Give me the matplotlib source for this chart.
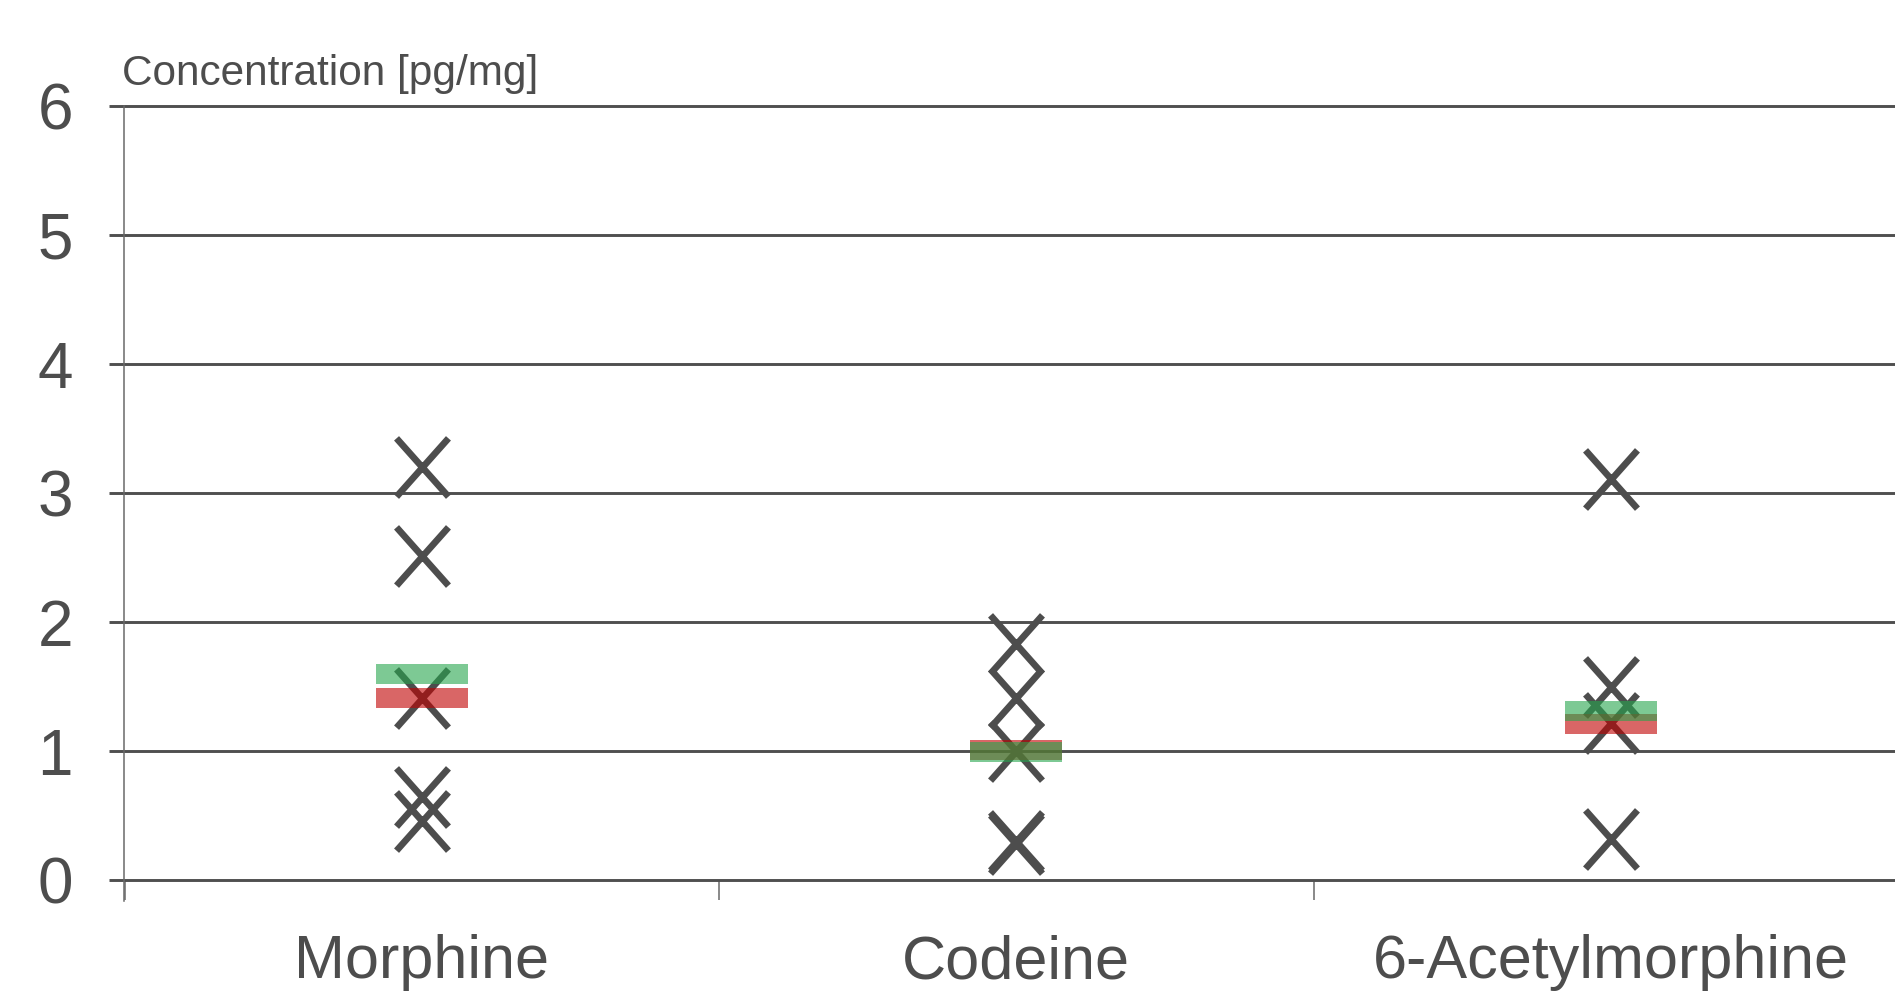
import matplotlib
matplotlib.use("Agg")
import matplotlib.pyplot as plt
from matplotlib.path import Path
import numpy as np

# data
drugs = ["Morphine", "Codeine", "6-Acetylmorphine"]
morphine_pts = [3.20, 2.51, 1.41, 0.645, 0.46]
codeine_pts = [1.83, 1.41, 1.00, 0.30, 0.28]
acetyl_pts = [3.11, 1.50, 1.22, 0.32]
green_vals = [1.60, 0.99, 1.31]
red_vals = [1.41, 1.01, 1.21]
y_ticks = [0, 1, 2, 3, 4, 5, 6]

text_col = "#4d4d4d"
grid_col = "#4f4f4f"
axis_col = "#6a6a6a"

plt.rcParams["font.family"] = ["Liberation Sans", "DejaVu Sans"]

# slightly tall cross, like the original
cross = Path([(-0.445, -0.5), (0.445, 0.5), (-0.445, 0.5), (0.445, -0.5)],
             [Path.MOVETO, Path.LINETO, Path.MOVETO, Path.LINETO])

fig = plt.figure(figsize=(18.95, 9.91), dpi=100)
ax = fig.add_axes([124.5 / 1895, 111 / 991, 1783.5 / 1895, 773.6 / 991])

for i, pts in enumerate([morphine_pts, codeine_pts, acetyl_pts]):
    ax.plot([i] * len(pts), pts, linestyle="none", marker=cross, markersize=42,
            markeredgewidth=4.8, color=text_col, zorder=3)

band_h = 0.155
band_w = 0.155
x = np.arange(len(drugs))
ax.bar(x, band_h, bottom=np.array(red_vals) - band_h / 2, width=band_w,
       color=(0.757, 0.0, 0.0), alpha=0.6, linewidth=0, zorder=4)
ax.bar(x, band_h, bottom=np.array(green_vals) - band_h / 2, width=band_w,
       color=(0.15, 0.65, 0.30), alpha=0.6, linewidth=0, zorder=5)

ax.set_xlim(-0.5, 2.5)
ax.set_ylim(0, 6)
ax.set_yticks(y_ticks)
ax.set_yticklabels([str(v) for v in y_ticks], fontsize=46, color=text_col)
ax.set_xticks(x)
ax.set_xticklabels(drugs, fontsize=44, color=text_col)
ax.set_xticks([-0.5, 0.5, 1.5], minor=True)

ax.tick_params(axis="y", length=11, width=2.1, color=grid_col, pad=26)
ax.tick_params(axis="x", which="major", length=0, pad=39)
ax.tick_params(axis="x", which="minor", length=14.5, width=1.1, color=axis_col)

ax.yaxis.grid(True, color=grid_col, linewidth=2.1, zorder=1)
ax.set_axisbelow(True)
for gl in ax.get_ygridlines():
    gl.set_clip_on(False)

for s in ["top", "right", "bottom"]:
    ax.spines[s].set_visible(False)
ax.spines["left"].set_color(axis_col)
ax.spines["left"].set_linewidth(1.1)
ax.spines["left"].set_bounds(-0.16, 6)

fig.text(122 / 1895, 1 - 85 / 991, "Concentration [pg/mg]", fontsize=30.5,
         color=text_col, ha="left", va="baseline")

fig.savefig("out.png", dpi=100)
